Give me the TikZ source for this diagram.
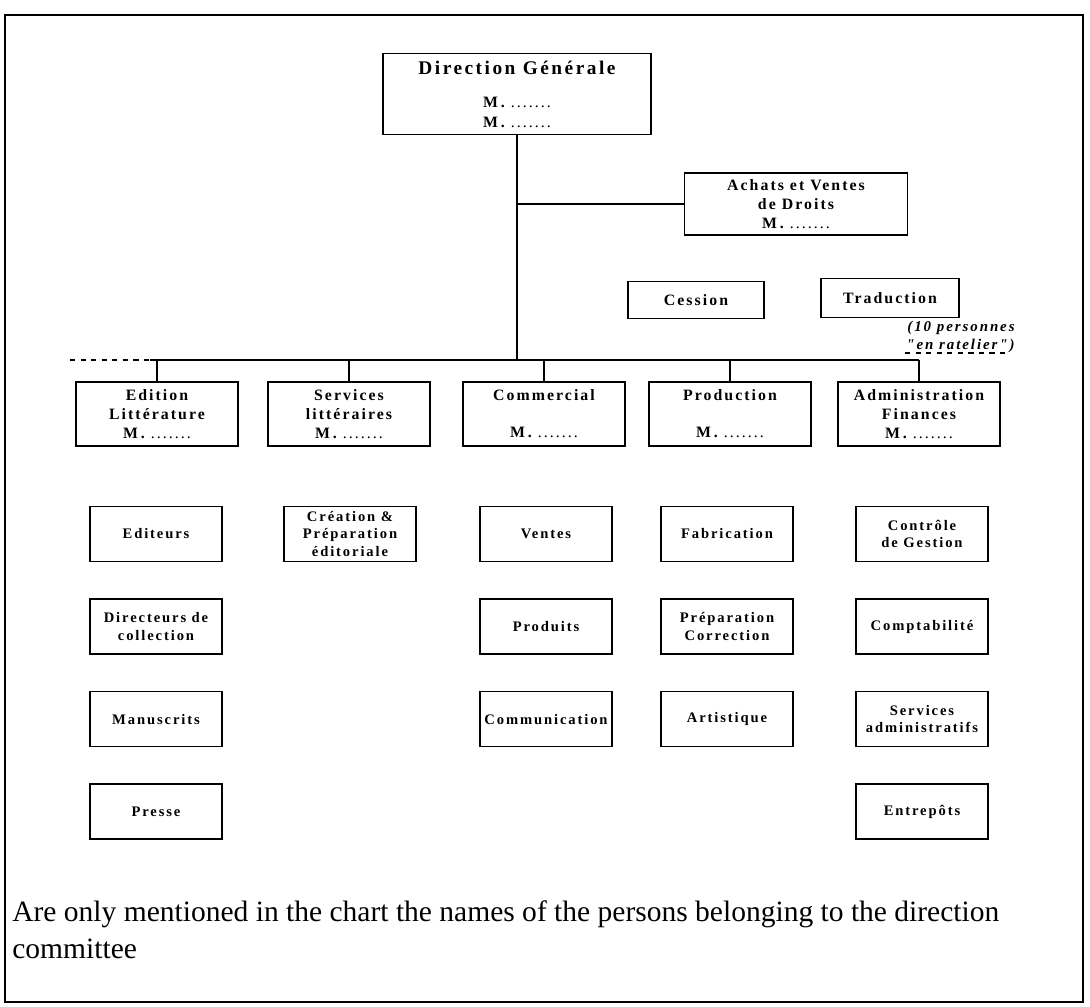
\documentclass[tikz,border=0pt]{standalone}
\usepackage{fontspec}
\setmainfont{Liberation Serif}
\newfontfamily\boxfont[LetterSpace=13]{Liberation Serif}
\usetikzlibrary{positioning}

\newcommand{\mline}{M\,.\ {\mdseries .......}}

\begin{document}
\begin{tikzpicture}[x=0.02cm, y=-0.02cm, node distance=0.72cm,
  unit/.style={draw, line width=0.9pt, minimum width=3.24cm, minimum height=1.28cm, align=center, inner sep=2pt, font=\boxfont\bfseries\fontsize{9}{11}\selectfont},
  sub/.style={draw, line width=0.9pt, minimum width=2.64cm, minimum height=1.1cm, align=center, inner sep=2pt, font=\boxfont\bfseries\fontsize{8.3}{10}\selectfont},
  link/.style={line width=0.7pt}]

\useasboundingbox (0,0) rectangle (1090,1007);
\draw[line width=1pt] (5,15) rectangle (1083,1002);

% direction
\node[unit, minimum width=5.36cm, minimum height=1.62cm, font=\boxfont\bfseries\fontsize{9}{11.4}\selectfont] (dg) at (517,94) {{\fontsize{11}{13}\selectfont Direction Générale}\\[7.4pt]\mline\\\mline};
\node[unit, minimum width=4.46cm, minimum height=1.24cm] (achats) at (796,204) {Achats et Ventes\\de Droits\\\mline};
\node[unit, minimum width=2.72cm, minimum height=0.74cm] (cession) at (696,300) {Cession};
\node[unit, minimum width=2.76cm, minimum height=0.78cm] (traduction) at (890,298) {Traduction};
\node[anchor=north east, align=right, inner sep=0pt, font=\boxfont\bfseries\itshape\fontsize{8.5}{10}\selectfont] (ratelier) at (1015,321) {(10 personnes\\"en ratelier")};

% departements
\node[unit] (edition) at (157,414) {Edition\\Littérature\\\mline};
\node[unit] (services) at (349,414) {Services\\littéraires\\\mline};
\node[unit] (commercial) at (544,414) {Commercial\\[10pt]\mline};
\node[unit] (production) at (730,414) {Production\\[10pt]\mline};
\node[unit] (admin) at (919,414) {Administration\\Finances\\\mline};

% services
\node[sub] (editeurs) at (156,534) {Editeurs};
\node[sub, below=of editeurs] (directeurs) {Directeurs de\\collection};
\node[sub, below=of directeurs] (manuscrits) {Manuscrits};
\node[sub, below=of manuscrits] (presse) {Presse};

\node[sub] (creation) at (350,534) {Création \&\\Préparation\\éditoriale};

\node[sub] (ventes) at (546,534) {Ventes};
\node[sub, below=of ventes] (produits) {Produits};
\node[sub, below=of produits] (communication) {Communication};

\node[sub] (fabrication) at (727,534) {Fabrication};
\node[sub, below=of fabrication] (preparation) {Préparation\\Correction};
\node[sub, below=of preparation] (artistique) {Artistique};

\node[sub] (controle) at (922,534) {Contrôle\\de Gestion};
\node[sub, below=of controle] (comptabilite) {Comptabilité};
\node[sub, below=of comptabilite] (servadmin) {Services\\administratifs};
\node[sub, below=of servadmin] (entrepots) {Entrepôts};

% liaisons
\coordinate (busL) at (150,360);
\coordinate (busD) at (70,360);
\coordinate (rackL) at (905,353);
\coordinate (rackR) at (1005,353);
\draw[link] (dg.south) -- (dg.south |- busL);
\draw[link] (dg.south |- achats.west) -- (achats.west);
\draw[link] (busL) -- (admin.north |- busL);
\draw[link, dashed] (busD) -- (busL);
\draw[link, dashed] (rackL) -- (rackR);
\foreach \u in {edition,services,commercial,production,admin}
  \draw[link] (\u.north |- busL) -- (\u.north);

\node[anchor=north west, align=left, inner sep=0pt, font=\fontsize{16.8}{21}\selectfont] (note) at (12,900) {Are only mentioned in the chart the names of the persons belonging to the direction\\committee};

\end{tikzpicture}
\end{document}
